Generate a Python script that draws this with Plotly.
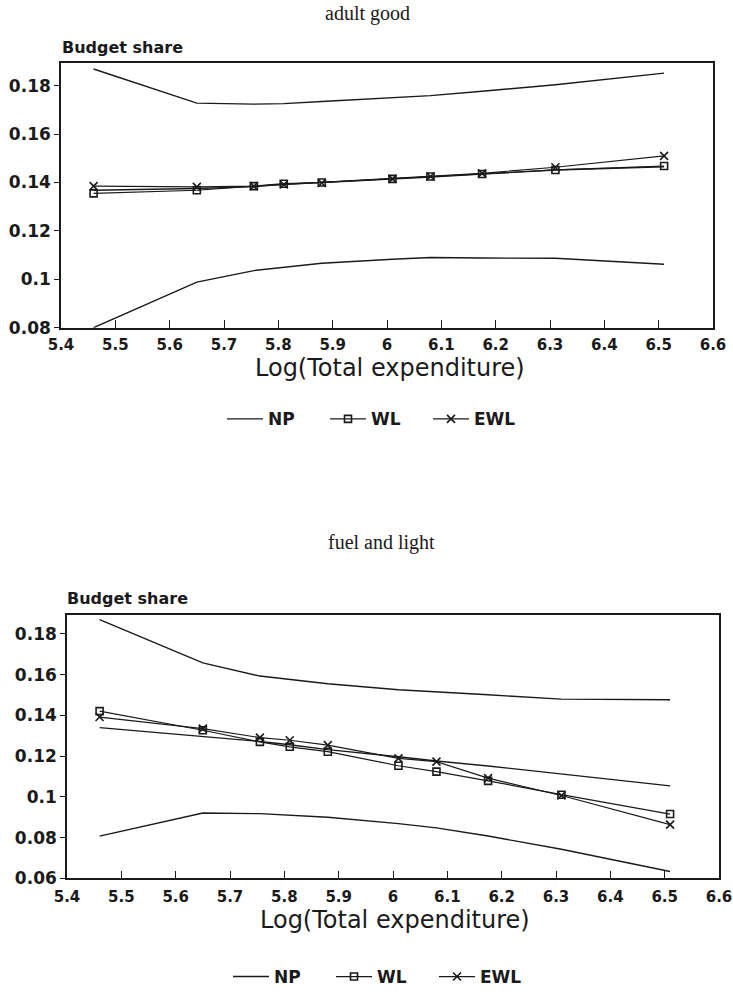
import plotly.graph_objects as go

# ---- data ----
log_exp = [5.46, 5.65, 5.755, 5.81, 5.88, 6.01, 6.08, 6.175, 6.31, 6.51]

# adult good
ag_np = [0.1368, 0.1375, 0.1383, 0.1393, 0.1400, 0.1413, 0.1423, 0.1435, 0.1452, 0.1465]
ag_np_upper = [0.1869, 0.1728, 0.1724, 0.1726, 0.1735, 0.1749, 0.1759, 0.1777, 0.1804, 0.1852]
ag_np_lower = [0.0800, 0.0988, 0.1036, 0.1050, 0.1066, 0.1083, 0.1090, 0.1088, 0.1087, 0.1062]
ag_wl = [0.1355, 0.1368, 0.1385, 0.1395, 0.1400, 0.1415, 0.1425, 0.1435, 0.1452, 0.1468]
ag_ewl = [0.1385, 0.1382, 0.1385, 0.1392, 0.1398, 0.1415, 0.1425, 0.1438, 0.1463, 0.1510]

# fuel and light
fl_np = [0.1340, 0.1298, 0.1272, 0.1256, 0.1232, 0.1197, 0.1176, 0.1152, 0.1113, 0.1054]
fl_np_upper = [0.1870, 0.1658, 0.1593, 0.1575, 0.1555, 0.1526, 0.1514, 0.1501, 0.1480, 0.1477]
fl_np_lower = [0.0808, 0.0921, 0.0918, 0.0910, 0.0900, 0.0869, 0.0848, 0.0808, 0.0743, 0.0634]
fl_wl = [0.1421, 0.1327, 0.1270, 0.1246, 0.1222, 0.1153, 0.1124, 0.1079, 0.1011, 0.0916]
fl_ewl = [0.1392, 0.1335, 0.1291, 0.1278, 0.1254, 0.1189, 0.1173, 0.1092, 0.1007, 0.0864]

x_ticks = [5.4, 5.5, 5.6, 5.7, 5.8, 5.9, 6.0, 6.1, 6.2, 6.3, 6.4, 6.5, 6.6]
x_ticklabels = ["5.4", "5.5", "5.6", "5.7", "5.8", "5.9", "6", "6.1", "6.2", "6.3", "6.4", "6.5", "6.6"]
ag_yticks = [0.08, 0.10, 0.12, 0.14, 0.16, 0.18]
ag_yticklabels = ["0.08", "0.1", "0.12", "0.14", "0.16", "0.18"]
fl_yticks = [0.06, 0.08, 0.10, 0.12, 0.14, 0.16, 0.18]
fl_yticklabels = ["0.06", "0.08", "0.1", "0.12", "0.14", "0.16", "0.18"]

titles = ["adult good", "fuel and light"]
x_title = "Log(Total expenditure)"
y_title = "Budget share"
names = ["NP", "WL", "EWL"]

W, H = 733, 995
BLACK = "#1a1a1a"
SANS = "DejaVu Sans, Liberation Sans, Arial, sans-serif"
SERIF = "Liberation Serif, DejaVu Serif, serif"

fig = go.Figure()

def add_panel(xa, ya, leg, np_mid, np_up, np_lo, wl, ewl):
    line = dict(color=BLACK, width=1.4)
    fig.add_trace(go.Scatter(x=log_exp, y=np_up, mode="lines", line=line,
                             xaxis=xa, yaxis=ya, showlegend=False, hoverinfo="skip"))
    fig.add_trace(go.Scatter(x=log_exp, y=np_lo, mode="lines", line=line,
                             xaxis=xa, yaxis=ya, showlegend=False, hoverinfo="skip"))
    fig.add_trace(go.Scatter(x=log_exp, y=np_mid, mode="lines", line=line, name=names[0],
                             xaxis=xa, yaxis=ya, legend=leg))
    fig.add_trace(go.Scatter(x=log_exp, y=wl, mode="lines+markers", line=dict(color=BLACK, width=1.2),
                             marker=dict(symbol="square-open", size=7, color=BLACK, line=dict(width=1.6)),
                             name=names[1], xaxis=xa, yaxis=ya, legend=leg))
    fig.add_trace(go.Scatter(x=log_exp, y=ewl, mode="lines+markers", line=dict(color=BLACK, width=1.2),
                             marker=dict(symbol="x-thin", size=8, color=BLACK, line=dict(width=1.6, color=BLACK)),
                             name=names[2], xaxis=xa, yaxis=ya, legend=leg))

add_panel("x", "y", "legend", ag_np, ag_np_upper, ag_np_lower, ag_wl, ag_ewl)
add_panel("x2", "y2", "legend2", fl_np, fl_np_upper, fl_np_lower, fl_wl, fl_ewl)

xtickfont = dict(family=SANS, size=15, color=BLACK, weight="bold")
ytickfont = dict(family=SANS, size=17, color=BLACK, weight="bold")

def xaxis(domain, anchor, lab_off):
    return dict(domain=domain, anchor=anchor, range=[5.4, 6.6], tickvals=x_ticks, ticktext=x_ticklabels,
                ticks="inside", ticklen=8, tickwidth=1.3, tickcolor=BLACK,
                showline=True, linecolor=BLACK, linewidth=1.6, mirror=True, showgrid=False,
                zeroline=False, tickfont=xtickfont, automargin=False, ticklabelstandoff=lab_off)

def yaxis(domain, anchor, rng, tv, tt):
    return dict(domain=domain, anchor=anchor, range=rng, tickvals=tv, ticktext=tt,
                ticks="outside", ticklen=5, tickwidth=1.3, tickcolor=BLACK,
                showline=True, linecolor=BLACK, linewidth=1.6, mirror=True, showgrid=False,
                zeroline=False, tickfont=ytickfont, automargin=False)

top = (63, 329)
bot = (617, 882)
legfont = dict(family=SANS, size=17, color=BLACK, weight="bold")
anns = [
    dict(text=titles[0], x=367 / W, y=1 - 14 / H),
    dict(text=titles[1], x=381 / W, y=1 - 545 / H),
]
for a in anns:
    a.update(xref="paper", yref="paper", showarrow=False, xanchor="center", yanchor="middle",
             font=dict(family=SERIF, size=20, color=BLACK))
for xx, yy in [(60, 48), (65, 601)]:
    anns.append(dict(text=y_title, x=xx / W, y=1 - yy / H, xref="paper", yref="paper", showarrow=False,
                     font=dict(family=SANS, size=16, color=BLACK, weight="bold"),
                     xanchor="left", yanchor="middle"))
for xx, yy in [(390, 369), (395, 924)]:
    anns.append(dict(text=x_title, x=xx / W, y=1 - yy / H, xref="paper", yref="paper", showarrow=False,
                     font=dict(family=SANS, size=24, color=BLACK),
                     xanchor="center", yanchor="middle"))

fig.update_layout(
    width=W, height=H,
    margin=dict(l=0, r=0, t=0, b=0),
    paper_bgcolor="white", plot_bgcolor="white",
    xaxis=xaxis([61 / W, 713 / W], "y", 3),
    yaxis=yaxis([1 - top[1] / H, 1 - top[0] / H], "x", [0.08, 0.1895], ag_yticks, ag_yticklabels),
    xaxis2=xaxis([67 / W, 719 / W], "y2", 4),
    yaxis2=yaxis([1 - bot[1] / H, 1 - bot[0] / H], "x2", [0.06, 0.1895], fl_yticks, fl_yticklabels),
    legend=dict(orientation="h", x=222 / W, xanchor="left", y=1 - 421 / H, yanchor="middle",
                font=legfont, itemwidth=36, entrywidth=52, entrywidthmode="pixels",
                bgcolor="rgba(0,0,0,0)"),
    legend2=dict(orientation="h", x=228 / W, xanchor="left", y=1 - 981 / H, yanchor="middle",
                 font=legfont, itemwidth=36, entrywidth=52, entrywidthmode="pixels",
                 bgcolor="rgba(0,0,0,0)"),
    annotations=anns,
)

fig.write_html("out.html")
